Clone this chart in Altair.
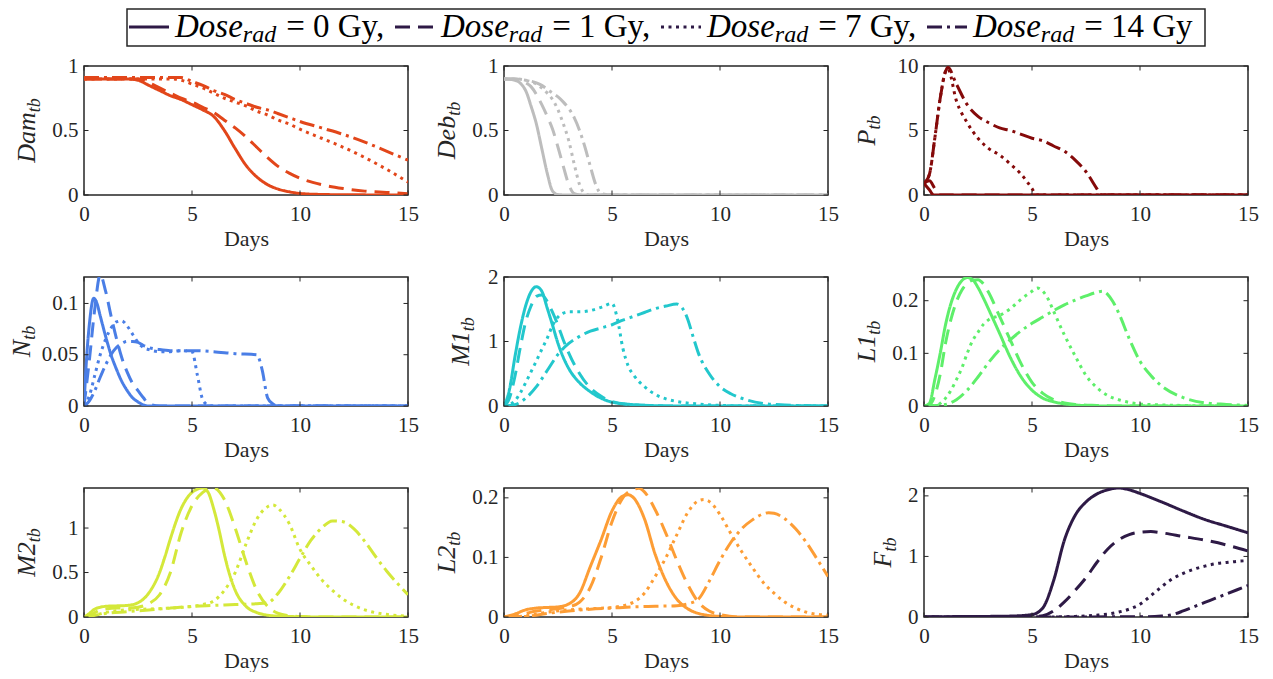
import altair as alt
import pandas as pd

DOSES = ["0 Gy", "1 Gy", "7 Gy", "14 Gy"]
DASHES = [[1, 0], [15, 8], [3, 4.5], [15, 5, 3, 5]]
X_TICKS = [0, 5, 10, 15]

# ---------------- data (t in days, value) ----------------
DAM_0 = [(0,0.9),(1,0.9),(2,0.9),(2.5,0.89),(3,0.85),(3.5,0.81),(4,0.77),(4.5,0.74),(5,0.70),(5.5,0.66),(6,0.61),(6.5,0.50),(7,0.36),(7.5,0.23),(8,0.14),(8.5,0.08),(9,0.045),(9.5,0.025),(10,0.012),(11,0.004),(12,0.002),(13,0.001),(14,0),(15,0)]
DAM_1 = [(0,0.9),(1,0.9),(2,0.9),(2.5,0.9),(3,0.87),(3.5,0.83),(4,0.79),(4.5,0.75),(5,0.72),(5.5,0.68),(6,0.64),(6.5,0.58),(7,0.52),(7.5,0.45),(8,0.37),(8.5,0.29),(9,0.22),(9.5,0.17),(10,0.13),(11,0.08),(12,0.05),(13,0.03),(14,0.02),(15,0.01)]
DAM_7 = [(0,0.9),(2,0.9),(4,0.9),(4.5,0.89),(5,0.86),(5.5,0.83),(6,0.79),(6.5,0.75),(7,0.72),(7.5,0.69),(8,0.65),(8.5,0.62),(9,0.58),(9.5,0.55),(10,0.51),(11,0.44),(12,0.37),(13,0.29),(14,0.2),(15,0.1)]
DAM_14 = [(0,0.91),(2,0.91),(4.5,0.91),(5,0.88),(5.5,0.85),(6,0.81),(6.5,0.78),(7,0.74),(7.5,0.71),(8,0.68),(8.5,0.66),(9,0.63),(9.5,0.6),(10,0.57),(11,0.52),(12,0.47),(13,0.41),(14,0.34),(15,0.27)]

DEB_0 = [(0,0.9),(0.5,0.89),(1,0.81),(1.25,0.69),(1.5,0.55),(1.75,0.36),(2,0.17),(2.25,0.03),(2.5,0.003),(3,0),(15,0)]
DEB_1 = [(0,0.9),(0.5,0.9),(1,0.87),(1.25,0.84),(1.5,0.78),(1.75,0.7),(2,0.61),(2.25,0.51),(2.5,0.37),(2.75,0.22),(3,0.08),(3.25,0.01),(3.5,0),(15,0)]
DEB_7 = [(0,0.9),(0.5,0.9),(1,0.89),(1.5,0.86),(1.75,0.83),(2,0.79),(2.25,0.74),(2.5,0.66),(2.75,0.55),(3,0.42),(3.25,0.24),(3.5,0.08),(3.75,0.01),(4,0),(15,0)]
DEB_14 = [(0,0.9),(0.5,0.9),(1,0.89),(1.5,0.87),(1.75,0.85),(2,0.82),(2.25,0.79),(2.5,0.76),(2.75,0.72),(3,0.67),(3.25,0.6),(3.5,0.5),(3.75,0.37),(4,0.22),(4.25,0.08),(4.5,0.01),(5,0),(15,0)]

P_0 = [(0,0.9),(0.25,0.4),(0.45,0),(15,0)]
P_1 = [(0,0.9),(0.25,1.1),(0.5,0.5),(0.7,0),(15,0)]
P_7 = [(0,0.9),(0.25,1.6),(0.5,4.4),(0.75,7.5),(1,9.6),(1.1,9.8),(1.5,7.3),(2,5.6),(2.5,4.4),(3,3.6),(3.5,3.1),(4,2.4),(4.5,1.6),(5,0.5),(5.2,0),(15,0)]
P_14 = [(0,0.9),(0.25,1.6),(0.5,4.4),(0.75,7.5),(1,9.6),(1.1,9.9),(1.5,8.6),(2,7.0),(2.5,6.1),(3,5.6),(3.5,5.2),(4,5.0),(4.5,4.7),(5,4.4),(5.5,4.2),(6,3.8),(6.5,3.4),(7,2.7),(7.5,1.8),(8,0.5),(8.2,0),(15,0)]

N_0 = [(0,0),(0.1,0.04),(0.25,0.08),(0.45,0.105),(0.6,0.1),(0.75,0.088),(1,0.068),(1.25,0.05),(1.5,0.036),(1.75,0.024),(2,0.015),(2.25,0.008),(2.5,0.004),(2.75,0.001),(3,0),(15,0)]
N_1 = [(0,0),(0.25,0.045),(0.5,0.095),(0.75,0.128),(1,0.112),(1.25,0.088),(1.5,0.066),(1.75,0.047),(2,0.033),(2.25,0.022),(2.5,0.015),(2.75,0.008),(3,0.002),(3.5,0),(15,0)]
N_7 = [(0,0),(0.25,0.01),(0.5,0.03),(0.75,0.05),(1,0.065),(1.25,0.076),(1.5,0.082),(1.75,0.083),(2,0.078),(2.25,0.07),(2.5,0.062),(2.75,0.057),(3,0.055),(3.5,0.053),(4,0.053),(4.5,0.054),(5,0.053),(5.25,0.03),(5.5,0.006),(5.75,0.001),(6,0),(15,0)]
N_14 = [(0,0),(0.25,0.005),(0.5,0.015),(0.75,0.028),(1,0.04),(1.25,0.05),(1.5,0.057),(1.75,0.061),(2,0.063),(2.25,0.063),(2.5,0.062),(2.75,0.059),(3,0.057),(3.5,0.055),(4,0.054),(5,0.054),(6,0.053),(7,0.051),(8,0.05),(8.25,0.035),(8.5,0.008),(8.75,0.002),(9,0),(15,0)]

M1_0 = [(0,0),(0.25,0.25),(0.5,0.75),(0.75,1.2),(1,1.55),(1.25,1.77),(1.5,1.85),(1.75,1.78),(2,1.52),(2.25,1.25),(2.5,0.97),(2.75,0.75),(3,0.58),(3.5,0.36),(4,0.22),(4.5,0.12),(5,0.06),(6,0.02),(7,0.005),(8,0),(15,0)]
M1_1 = [(0,0),(0.25,0.12),(0.5,0.45),(0.75,0.9),(1,1.3),(1.25,1.55),(1.5,1.7),(1.75,1.72),(2,1.62),(2.25,1.45),(2.5,1.25),(2.75,1.02),(3,0.82),(3.5,0.5),(4,0.28),(4.5,0.15),(5,0.07),(6,0.02),(7,0.005),(8,0),(15,0)]
M1_7 = [(0,0),(0.25,0.02),(0.5,0.08),(0.75,0.2),(1,0.36),(1.25,0.53),(1.5,0.7),(1.75,0.88),(2,1.05),(2.25,1.25),(2.5,1.38),(2.75,1.44),(3,1.46),(3.5,1.46),(4,1.48),(4.5,1.53),(5,1.59),(5.25,1.35),(5.5,0.9),(5.75,0.62),(6,0.48),(6.5,0.3),(7,0.18),(7.5,0.11),(8,0.07),(9,0.03),(10,0.01),(11,0),(15,0)]
M1_14 = [(0,0),(0.5,0.02),(1,0.12),(1.5,0.3),(2,0.55),(2.5,0.8),(3,0.97),(3.5,1.08),(4,1.16),(4.5,1.21),(5,1.26),(5.5,1.33),(6,1.39),(6.5,1.45),(7,1.51),(7.5,1.55),(8,1.58),(8.25,1.52),(8.5,1.35),(8.75,1.08),(9,0.82),(9.5,0.5),(10,0.3),(10.5,0.19),(11,0.12),(12,0.04),(13,0.015),(14,0.005),(15,0)]

L1_0 = [(0,0),(0.25,0.005),(0.5,0.05),(0.75,0.1),(1,0.155),(1.25,0.195),(1.5,0.222),(1.75,0.238),(2,0.244),(2.25,0.24),(2.5,0.225),(2.75,0.205),(3,0.183),(3.5,0.138),(4,0.092),(4.5,0.055),(5,0.03),(5.5,0.015),(6,0.008),(6.5,0.004),(7,0.002),(8,0),(15,0)]
L1_1 = [(0,0),(0.25,0.002),(0.5,0.02),(0.75,0.06),(1,0.12),(1.25,0.165),(1.5,0.198),(1.75,0.22),(2,0.233),(2.25,0.239),(2.5,0.24),(2.75,0.232),(3,0.215),(3.5,0.17),(4,0.125),(4.5,0.08),(5,0.045),(5.5,0.024),(6,0.012),(6.5,0.006),(7,0.003),(8,0.001),(9,0),(15,0)]
L1_7 = [(0,0),(0.5,0.001),(0.75,0.005),(1,0.015),(1.25,0.03),(1.5,0.05),(1.75,0.072),(2,0.1),(2.25,0.124),(2.5,0.14),(2.75,0.155),(3,0.164),(3.5,0.172),(4,0.185),(4.5,0.203),(5,0.218),(5.25,0.224),(5.5,0.218),(5.75,0.203),(6,0.18),(6.5,0.135),(7,0.095),(7.5,0.058),(8,0.035),(8.5,0.02),(9,0.012),(10,0.004),(11,0.002),(12,0.001),(13,0),(15,0)]
L1_14 = [(0,0),(1,0.003),(1.5,0.012),(2,0.03),(2.5,0.055),(3,0.083),(3.5,0.107),(4,0.126),(4.5,0.143),(5,0.157),(5.5,0.169),(6,0.181),(6.5,0.192),(7,0.201),(7.5,0.209),(8,0.216),(8.25,0.218),(8.5,0.212),(8.75,0.198),(9,0.178),(9.5,0.128),(10,0.085),(10.5,0.058),(11,0.038),(12,0.016),(13,0.006),(14,0.003),(15,0.001)]

M2_0 = [(0,0),(0.25,0.04),(0.5,0.09),(0.75,0.11),(1,0.12),(1.5,0.125),(2,0.13),(2.5,0.16),(3,0.27),(3.5,0.5),(3.75,0.68),(4,0.88),(4.5,1.22),(5,1.4),(5.5,1.45),(5.75,1.4),(6,1.22),(6.25,0.98),(6.5,0.7),(6.75,0.47),(7,0.3),(7.5,0.12),(8,0.05),(8.5,0.02),(9,0.01),(10,0.003),(11,0),(15,0)]
M2_1 = [(0,0),(0.25,0.02),(0.5,0.05),(0.75,0.08),(1,0.09),(1.5,0.1),(2,0.1),(2.5,0.11),(3,0.15),(3.5,0.25),(4,0.5),(4.5,0.95),(5,1.25),(5.5,1.4),(6,1.45),(6.5,1.32),(7,1.0),(7.5,0.62),(8,0.3),(8.5,0.12),(9,0.04),(9.5,0.015),(10,0.005),(11,0),(15,0)]
M2_7 = [(0,0),(0.5,0.02),(1,0.05),(1.5,0.07),(2,0.08),(3,0.09),(4,0.1),(5,0.12),(5.5,0.14),(6,0.18),(6.5,0.3),(7,0.5),(7.5,0.82),(8,1.1),(8.5,1.24),(8.75,1.26),(9,1.22),(9.5,1.05),(10,0.76),(10.5,0.58),(11,0.42),(11.5,0.3),(12,0.2),(12.5,0.13),(13,0.08),(14,0.03),(15,0.01)]
M2_14 = [(0,0),(0.5,0.02),(1,0.04),(2,0.06),(3,0.08),(4,0.1),(5,0.12),(6,0.13),(7,0.14),(8,0.15),(8.5,0.16),(9,0.27),(9.5,0.45),(10,0.66),(10.5,0.86),(11,1.0),(11.5,1.08),(12,1.07),(12.5,0.99),(13,0.85),(13.5,0.68),(14,0.52),(14.5,0.38),(15,0.25)]

L2_0 = [(0,0),(0.5,0.005),(1,0.012),(1.5,0.015),(2,0.016),(2.5,0.017),(3,0.022),(3.5,0.04),(4,0.085),(4.5,0.13),(5,0.178),(5.5,0.203),(5.75,0.205),(6,0.2),(6.5,0.165),(7,0.105),(7.5,0.06),(8,0.03),(8.5,0.014),(9,0.006),(10,0.001),(11,0),(15,0)]
L2_1 = [(0,0),(0.5,0.002),(1,0.006),(1.5,0.01),(2,0.012),(2.5,0.014),(3,0.017),(3.5,0.025),(4,0.05),(4.5,0.1),(5,0.16),(5.5,0.2),(6,0.214),(6.25,0.216),(6.5,0.21),(7,0.18),(7.5,0.14),(8,0.095),(8.5,0.055),(9,0.025),(9.5,0.01),(10,0.004),(11,0),(15,0)]
L2_7 = [(0,0),(1,0.002),(2,0.008),(3,0.012),(4,0.014),(5,0.016),(6,0.025),(6.5,0.04),(7,0.068),(7.5,0.1),(8,0.138),(8.5,0.175),(9,0.195),(9.25,0.197),(9.5,0.194),(10,0.172),(10.5,0.14),(11,0.11),(11.5,0.083),(12,0.058),(12.5,0.04),(13,0.025),(13.5,0.015),(14,0.008),(15,0.003)]
L2_14 = [(0,0),(1,0.001),(2,0.006),(3,0.01),(4,0.013),(5,0.015),(6,0.017),(7,0.018),(8,0.019),(8.5,0.022),(9,0.03),(9.5,0.06),(10,0.095),(10.5,0.125),(11,0.148),(11.5,0.163),(12,0.173),(12.25,0.175),(12.5,0.174),(13,0.165),(13.5,0.148),(14,0.125),(14.5,0.097),(15,0.068)]

F_0 = [(0,0),(1,0.005),(2,0.008),(3,0.01),(4,0.015),(5,0.04),(5.5,0.15),(6,0.6),(6.5,1.27),(7,1.68),(7.5,1.9),(8,2.03),(8.5,2.1),(9,2.13),(9.5,2.1),(10,2.04),(11,1.9),(12,1.75),(13,1.61),(14,1.5),(15,1.39)]
F_1 = [(0,0),(5,0.005),(5.5,0.02),(6,0.1),(6.5,0.25),(7,0.44),(7.5,0.65),(8,0.9),(8.5,1.12),(9,1.27),(9.5,1.36),(10,1.4),(10.5,1.41),(11,1.39),(12,1.33),(13,1.27),(14,1.19),(15,1.09)]
F_7 = [(0,0),(6,0.002),(7,0.01),(8,0.03),(9,0.08),(9.5,0.13),(10,0.21),(10.5,0.35),(11,0.5),(11.5,0.63),(12,0.72),(12.5,0.79),(13,0.84),(13.5,0.88),(14,0.9),(14.5,0.92),(15,0.93)]
F_14 = [(0,0),(10,0.003),(11,0.015),(11.5,0.04),(12,0.1),(12.5,0.17),(13,0.24),(13.5,0.31),(14,0.38),(14.5,0.45),(15,0.52)]

PANELS = [
    dict(main="Dam", color="#e2461a", series=[DAM_0, DAM_1, DAM_7, DAM_14], dom=[0, 1], ticks=[0, 0.5, 1], tx=-49),
    dict(main="Deb", color="#bdbdbd", series=[DEB_0, DEB_1, DEB_7, DEB_14], dom=[0, 1], ticks=[0, 0.5, 1], tx=-49),
    dict(main="P", color="#850a0a", series=[P_0, P_1, P_7, P_14], dom=[0, 10], ticks=[0, 5, 10], tx=-49),
    dict(main="N", color="#4a7ee6", series=[N_0, N_1, N_7, N_14], dom=[0, 0.1258], ticks=[0, 0.05, 0.1], tx=-54),
    dict(main="M1", color="#22c7cc", series=[M1_0, M1_1, M1_7, M1_14], dom=[0, 2], ticks=[0, 1, 2], tx=-35),
    dict(main="L1", color="#5eef6a", series=[L1_0, L1_1, L1_7, L1_14], dom=[0, 0.245], ticks=[0, 0.1, 0.2], tx=-49),
    dict(main="M2", color="#d4e83a", series=[M2_0, M2_1, M2_7, M2_14], dom=[0, 1.45], ticks=[0, 0.5, 1], tx=-49),
    dict(main="L2", color="#fd9d35", series=[L2_0, L2_1, L2_7, L2_14], dom=[0, 0.2165], ticks=[0, 0.1, 0.2], tx=-49),
    dict(main="F", color="#2e1a46", series=[F_0, F_1, F_7, F_14], dom=[0, 2.13], ticks=[0, 1, 2], tx=-33),
]

FRAME = "#262626"
SERIF = "Liberation Serif"
LEG_COLOR = "#2e1a46"
W, H = 324, 129
TITLE_FS, SUB_FS = 26, 18
ITALIC_W = {"D": .722, "a": .5, "m": .722, "e": .444, "b": .5, "P": .611, "N": .667,
            "M": .833, "L": .556, "F": .611, "t": .278, "1": .5, "2": .5, "o": .5,
            "s": .389, "r": .389, "d": .5}


def text_w(s, fs):
    return sum(ITALIC_W.get(c, 0.5) for c in s) * fs


ONE = pd.DataFrame({"k": [0]})


def make_panel(p):
    rows = [{"t": t, "v": v, "dose": d} for d, pts in zip(DOSES, p["series"]) for t, v in pts]
    df = pd.DataFrame(rows)
    xenc = alt.X("t:Q", scale=alt.Scale(domain=[0, 15], nice=False, zero=False, padding=0),
                 axis=alt.Axis(values=X_TICKS, title="Days", titleFontWeight=400, labelFlush=False,
                               labelExpr="datum.value + ''"))
    yenc = alt.Y("v:Q", scale=alt.Scale(domain=p["dom"], nice=False, zero=False, padding=0),
                 axis=alt.Axis(values=p["ticks"], title=None, labelFlush=False,
                               labelExpr="datum.value + ''"))
    lines = alt.Chart(df).mark_line(clip=True, strokeWidth=3, color=p["color"], interpolate="monotone").encode(
        x=xenc, y=yenc,
        strokeDash=alt.StrokeDash("dose:N", scale=alt.Scale(domain=DOSES, range=DASHES), legend=None),
    )
    xt = pd.DataFrame({"t": X_TICKS})
    yt = pd.DataFrame({"v": p["ticks"]})
    tk = dict(color=FRAME, strokeWidth=1)
    xb = alt.Chart(xt).mark_rule(**tk).encode(x=xenc, y=alt.value(H), y2=alt.value(H - 4.5))
    xtp = alt.Chart(xt).mark_rule(**tk).encode(x=xenc, y=alt.value(0), y2=alt.value(4.5))
    yl = alt.Chart(yt).mark_rule(**tk).encode(y=yenc, x=alt.value(0), x2=alt.value(4.5))
    yr = alt.Chart(yt).mark_rule(**tk).encode(y=yenc, x=alt.value(W), x2=alt.value(W - 4.5))
    wm = text_w(p["main"], TITLE_FS)
    ws = text_w("tb", SUB_FS)
    y0 = H / 2 + (wm + ws) / 2
    tm = alt.Chart(ONE).mark_text(text=p["main"], angle=270, align="left", baseline="alphabetic", font=SERIF,
                                  fontSize=TITLE_FS, fontStyle="italic", color=FRAME).encode(
        x=alt.value(p["tx"]), y=alt.value(y0))
    ts = alt.Chart(ONE).mark_text(text="tb", angle=270, align="left", baseline="alphabetic", font=SERIF,
                                  fontSize=SUB_FS, fontStyle="italic", color=FRAME).encode(
        x=alt.value(p["tx"] + 5), y=alt.value(y0 - wm))
    return alt.layer(lines, xb, xtp, yl, yr, tm, ts).properties(width=W, height=H)


panels = [make_panel(p) for p in PANELS]
grid = alt.concat(*panels, columns=3, spacing={"row": 82, "column": 96}, bounds="flush")

# ---------------- legend ----------------
LEG_W, LEG_H = 1164, 37
BOX_L, BOX_R = 43, 1121
LEG_FS, LEG_SUB = 33, 24
LEG_X = [45, 311, 577, 843]
LEG_TXT = ["= 0 Gy,", "= 1 Gy,", "= 7 Gy,", "= 14 Gy"]
leg_layers = [alt.Chart(ONE).mark_rect(fill="white", stroke=FRAME, strokeWidth=1.5).encode(
    x=alt.value(BOX_L), x2=alt.value(BOX_R), y=alt.value(0), y2=alt.value(LEG_H))]
for i in range(4):
    s = LEG_X[i]
    xd = s + 46
    wd = text_w("Dose", LEG_FS)
    wr = text_w("rad", LEG_SUB)
    leg_layers.append(alt.Chart(ONE).mark_rule(color=LEG_COLOR, strokeWidth=3, strokeDash=DASHES[i]).encode(
        x=alt.value(s), x2=alt.value(s + 40), y=alt.value(18)))
    leg_layers.append(alt.Chart(ONE).mark_text(text="Dose", align="left", baseline="alphabetic", font=SERIF,
                                               fontSize=LEG_FS, fontStyle="italic", color="#000000").encode(
        x=alt.value(xd), y=alt.value(28)))
    leg_layers.append(alt.Chart(ONE).mark_text(text="rad", align="left", baseline="alphabetic", font=SERIF,
                                               fontSize=LEG_SUB, fontStyle="italic", color="#000000").encode(
        x=alt.value(xd + wd), y=alt.value(33)))
    leg_layers.append(alt.Chart(ONE).mark_text(text=LEG_TXT[i], align="left", baseline="alphabetic", font=SERIF,
                                               fontSize=LEG_FS, color="#000000").encode(
        x=alt.value(xd + wd + wr + 10), y=alt.value(28)))
legend = alt.layer(*leg_layers).properties(width=LEG_W, height=LEG_H,
                                           view=alt.ViewBackground(strokeOpacity=0))

chart = alt.vconcat(legend, grid, spacing=20, bounds="flush").properties(
    padding={"left": 0, "top": 0, "right": 5, "bottom": 0}
).configure_view(stroke=FRAME, strokeWidth=1.5).configure_axis(
    labelFont=SERIF, labelFontSize=21, labelColor=FRAME, titleFont=SERIF, titleFontSize=22,
    titleFontWeight=400, titleColor=FRAME, domain=False, ticks=False, tickSize=0, grid=False,
    labelPadding=6, labelFlush=False
).configure_axisX(labelPadding=8, titlePadding=4)

chart.save("out.html", embed_options={"renderer": "svg", "actions": False})
